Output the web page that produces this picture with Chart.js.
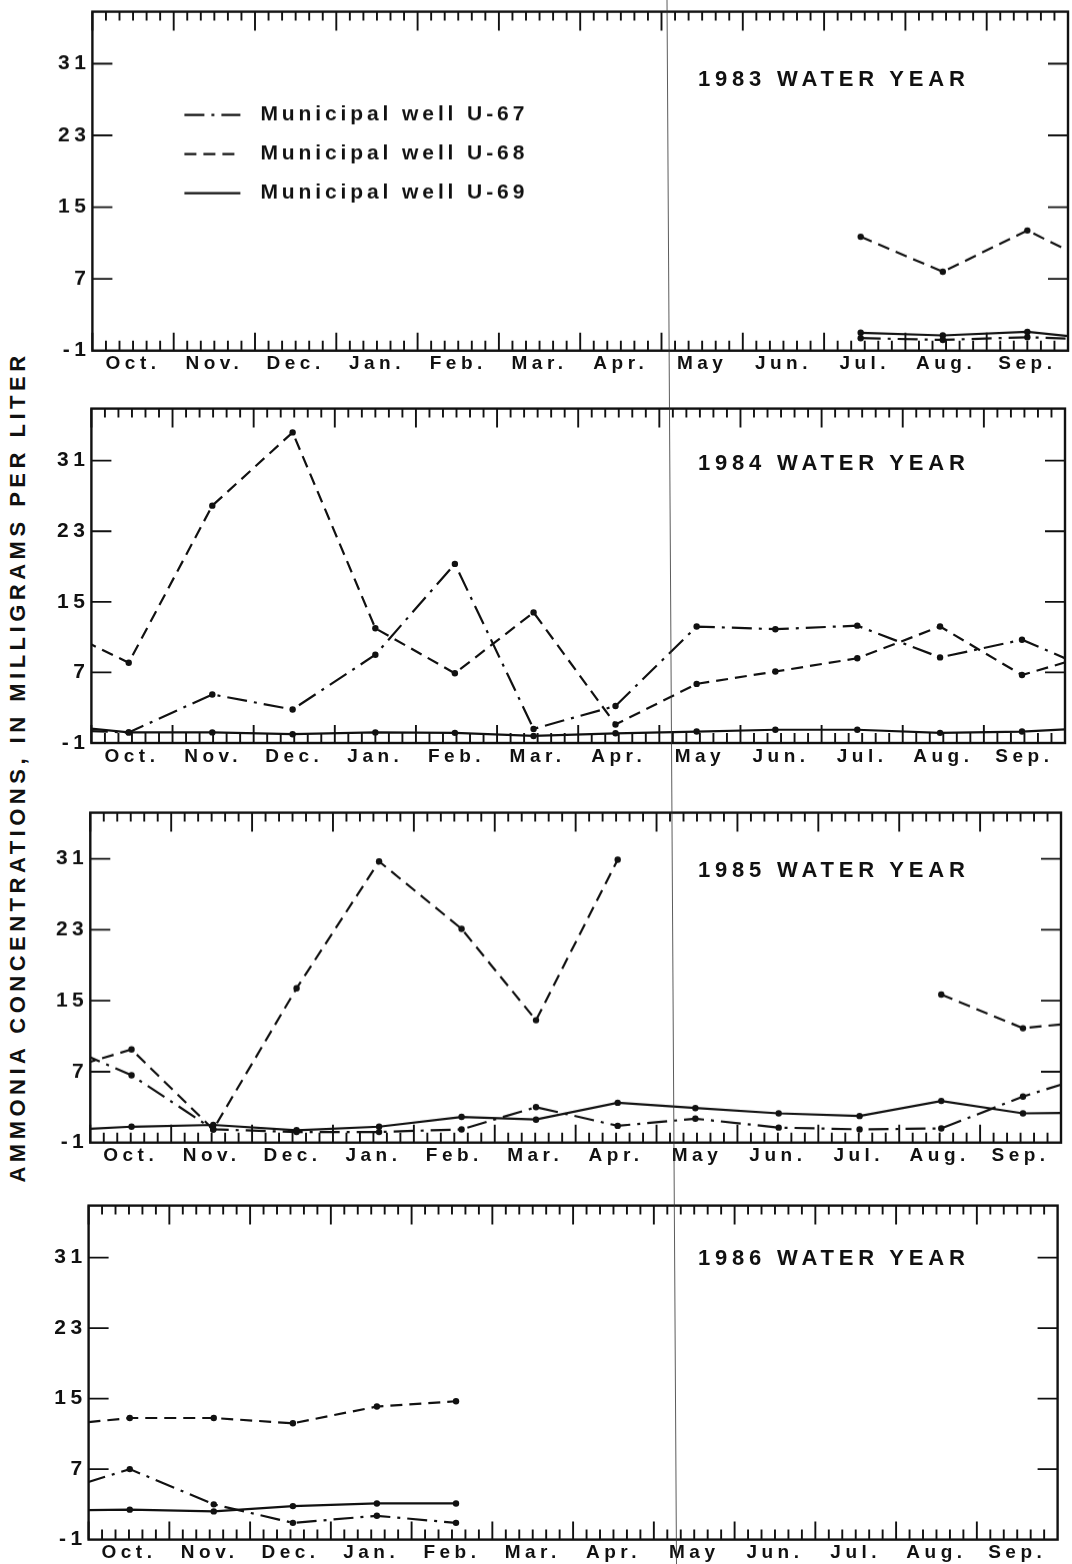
<!DOCTYPE html>
<html>
<head>
<meta charset="utf-8">
<script src="https://cdn.jsdelivr.net/npm/chart.js@4.4.1/dist/chart.umd.min.js"></script>
<style>
  html, body { margin: 0; padding: 0; background: #fff; }
  #page { position: relative; width: 1072px; height: 1564px; overflow: hidden; background: #fff; }
  .panel { position: absolute; left: 0; width: 1072px; }
  .wy { position: absolute; font: bold 22px "Liberation Sans", Arial, sans-serif; letter-spacing: 4.8px;
        color: #111; white-space: nowrap; line-height: 1; }
  #ytitle { position: absolute; left: 18px; top: 767px; transform: translate(-50%, -50%) rotate(-90deg);
            font: bold 22px "Liberation Sans", Arial, sans-serif; letter-spacing: 4.5px; color: #111;
            white-space: nowrap; line-height: 1; }
  #scanline { position: absolute; left: 0; top: 0; pointer-events: none; }
</style>
</head>
<body>
<div id="page">
  <div id="ytitle">AMMONIA CONCENTRATIONS, IN MILLIGRAMS PER LITER</div>
</div>
<script>
// ---------------- data ----------------
const months = ['Oct.', 'Nov.', 'Dec.', 'Jan.', 'Feb.', 'Mar.', 'Apr.', 'May', 'Jun.', 'Jul.', 'Aug.', 'Sep.'];
const yTicks = [-1, 7, 15, 23, 31];
const waterYears = ['1983 WATER YEAR', '1984 WATER YEAR', '1985 WATER YEAR', '1986 WATER YEAR'];
const wellNames = ['Municipal well U-67', 'Municipal well U-68', 'Municipal well U-69'];

// sampling dates, in months after October 1
const sampleX1983 = [0.5, 1.5, 2.5, 3.5, 4.5, 5.5, 6.5, 7.5, 8.5, 9.45, 10.46, 11.50];
const sampleX1984 = [0.46, 1.49, 2.48, 3.50, 4.48, 5.45, 6.46, 7.46, 8.43, 9.44, 10.46, 11.47];
const sampleX1985 = [0.51, 1.52, 2.55, 3.57, 4.59, 5.51, 6.52, 7.48, 8.51, 9.51, 10.52, 11.53];
const sampleX1986 = [0.51, 1.55, 2.53, 3.57, 4.55, 5.5, 6.5, 7.5, 8.5, 9.5, 10.5, 11.5];

// ammonia concentrations (mg/L), Oct..Sep of each water year
const u67_1983 = [null, null, null, null, null, null, null, null, null, 0.4, 0.2, 0.5];
const u67_1984 = [0.2, 4.5, 2.8, 9.0, 19.3, 0.6, 3.2, 12.2, 11.9, 12.3, 8.7, 10.7];
const u67_1985 = [6.6, 0.5, 0.2, 0.2, 0.5, 3.0, 0.9, 1.7, 0.7, 0.5, 0.6, 4.2];
const u67_1986 = [7.0, 3.0, 0.9, 1.7, 0.9, null, null, null, null, null, null, null];

const u68_1983 = [null, null, null, null, null, null, null, null, null, 11.7, 7.8, 12.4];
const u68_1984 = [8.1, 25.9, 34.2, 12.0, 6.9, 13.8, 1.1, 5.7, 7.1, 8.6, 12.2, 6.7];
const u68_1985 = [9.5, 0.5, 16.4, 30.7, 23.1, 12.8, 30.9, null, null, null, 15.7, 11.9];
const u68_1986 = [12.8, 12.8, 12.2, 14.1, 14.7, null, null, null, null, null, null, null];

const u69_1983 = [null, null, null, null, null, null, null, null, null, 1.0, 0.7, 1.1];
const u69_1984 = [0.2, 0.2, 0.0, 0.2, 0.15, -0.2, 0.1, 0.3, 0.5, 0.5, 0.15, 0.3];
const u69_1985 = [0.8, 1.0, 0.4, 0.8, 1.9, 1.6, 3.5, 2.9, 2.3, 2.0, 3.7, 2.3];
const u69_1986 = [2.4, 2.2, 2.8, 3.1, 3.1, null, null, null, null, null, null, null];

// ---------------- layout / style ----------------
const INK = '#111';
const FONT = '"Liberation Sans", Arial, sans-serif';
const panelBox = [
  { top: 8.3,    bottom: 350,    left: 92.4, right: 1068,   yMax: 36.8, titleTop: 68 },
  { top: 405,    bottom: 743,    left: 91.4, right: 1065,   yMax: 36.9, titleTop: 452 },
  { top: 809.3,  bottom: 1142,   left: 90.3, right: 1061,   yMax: 36.2, titleTop: 859 },
  { top: 1201.7, bottom: 1539.3, left: 88.6, right: 1057.6, yMax: 36.9, titleTop: 1247 }
];
const PAD_TOP = 3, XAXIS_H = 24;
const sampleX = [sampleX1983, sampleX1984, sampleX1985, sampleX1986];
const wells = [
  { name: wellNames[0], dash: [20, 7, 3, 7], values: [u67_1983, u67_1984, u67_1985, u67_1986] },
  { name: wellNames[1], dash: [12, 7],       values: [u68_1983, u68_1984, u68_1985, u68_1986] },
  { name: wellNames[2], dash: [],            values: [u69_1983, u69_1984, u69_1985, u69_1986] }
];

function series(w, p) {
  const v = w.values, out = [];
  if (p > 0 && v[p - 1][11] != null) out.push({ x: sampleX[p - 1][11] - 12, y: v[p - 1][11] });
  for (let i = 0; i < 12; i++) out.push({ x: sampleX[p][i], y: v[p][i] });
  if (p < v.length - 1 && v[p + 1][0] != null) out.push({ x: sampleX[p + 1][0] + 12, y: v[p + 1][0] });
  return out;
}

// frame and inward tick marks, positioned through the chart's scales
const framePlugin = {
  id: 'frame',
  beforeDraw(chart) { chart.ctx.letterSpacing = '4.5px'; },
  beforeDatasetsDraw(chart) {
    const { ctx, chartArea: a, scales: { x, y } } = chart;
    ctx.save();
    ctx.setLineDash([]);
    ctx.strokeStyle = INK;
    ctx.lineWidth = 2.4;
    ctx.strokeRect(a.left, a.top, a.right - a.left, a.bottom - a.top);
    ctx.lineWidth = 1.9;
    ctx.beginPath();
    for (let m = 0; m < months.length; m++) {
      for (let k = 0; k < 6; k++) {
        const px = x.getPixelForValue(m + k / 6);
        const major = k === 0;
        ctx.moveTo(px, a.top); ctx.lineTo(px, a.top + (major ? 19 : 9));
        ctx.moveTo(px, a.bottom); ctx.lineTo(px, a.bottom - (major ? 18 : 10));
      }
    }
    yTicks.forEach(v => {
      if (v <= y.min) return;
      const py = y.getPixelForValue(v);
      ctx.moveTo(a.left, py); ctx.lineTo(a.left + 20, py);
      ctx.moveTo(a.right, py); ctx.lineTo(a.right - 20, py);
    });
    ctx.stroke();
    ctx.restore();
  }
};

// legend inside the first panel, drawn from the datasets
const legendPlugin = {
  id: 'inlineLegend',
  afterDatasetsDraw(chart, args, opts) {
    if (!opts.show) return;
    const { ctx, chartArea: a } = chart;
    ctx.save();
    chart.data.datasets.forEach((ds, i) => {
      const rowY = a.top + 103 + i * 39;
      ctx.strokeStyle = INK;
      ctx.lineWidth = 2.2;
      ctx.setLineDash(ds.borderDash || []);
      ctx.beginPath();
      ctx.moveTo(a.left + 92, rowY);
      ctx.lineTo(a.left + 148, rowY);
      ctx.stroke();
      ctx.setLineDash([]);
      ctx.fillStyle = INK;
      ctx.letterSpacing = '3.9px';
      ctx.font = 'bold 21px ' + FONT;
      ctx.textBaseline = 'middle';
      ctx.textAlign = 'left';
      ctx.fillText(ds.label, a.left + 168, rowY);
    });
    ctx.restore();
  }
};

const page = document.getElementById('page');
const svgNS = 'http://www.w3.org/2000/svg';

panelBox.forEach((b, p) => {
  const h = (b.bottom - b.top) + PAD_TOP + XAXIS_H;
  const div = document.createElement('div');
  div.className = 'panel';
  div.style.top = (b.top - PAD_TOP) + 'px';
  div.style.height = h + 'px';
  const canvas = document.createElement('canvas');
  div.appendChild(canvas);
  page.appendChild(div);

  const title = document.createElement('div');
  title.className = 'wy';
  title.style.left = '698px';
  title.style.top = b.titleTop + 'px';
  title.textContent = waterYears[p];
  page.appendChild(title);

  new Chart(canvas, {
    type: 'line',
    data: {
      datasets: wells.map(w => ({
        label: w.name,
        data: series(w, p),
        borderColor: INK,
        backgroundColor: INK,
        borderWidth: 2.2,
        borderDash: w.dash,
        pointRadius: 3.2,
        pointBackgroundColor: INK,
        pointBorderWidth: 0,
        tension: 0,
        spanGaps: false,
        fill: false
      }))
    },
    options: {
      responsive: true,
      maintainAspectRatio: false,
      animation: false,
      events: [],
      layout: { padding: { left: 0, top: PAD_TOP, right: 1072 - b.right, bottom: 0 } },
      plugins: {
        legend: { display: false },
        tooltip: { enabled: false },
        inlineLegend: { show: p === 0 }
      },
      scales: {
        x: {
          type: 'linear',
          min: 0,
          max: months.length,
          grid: { display: false },
          border: { display: false },
          afterBuildTicks: s => { s.ticks = months.map((_, i) => ({ value: i + 0.5 })); },
          afterFit: s => { s.height = XAXIS_H; },
          ticks: {
            autoSkip: false, maxRotation: 0, padding: -6, color: INK,
            font: { family: FONT, size: 19, weight: 'bold' },
            callback: (v, i) => months[i]
          }
        },
        y: {
          type: 'linear',
          min: -1,
          max: b.yMax,
          grid: { display: false },
          border: { display: false },
          afterBuildTicks: s => { s.ticks = yTicks.map(v => ({ value: v })); },
          afterFit: s => { s.width = b.left; },
          ticks: {
            padding: -6, color: INK,
            font: { family: FONT, size: 21, weight: 'bold' },
            callback: v => String(v)
          }
        }
      }
    },
    plugins: [framePlugin, legendPlugin]
  });
});

// faint scanner fold line seen in the reference
const svg = document.createElementNS(svgNS, 'svg');
svg.setAttribute('id', 'scanline');
svg.setAttribute('width', '1072');
svg.setAttribute('height', '1564');
const ln = document.createElementNS(svgNS, 'line');
ln.setAttribute('x1', '667'); ln.setAttribute('y1', '0');
ln.setAttribute('x2', '676.5'); ln.setAttribute('y2', '1564');
ln.setAttribute('stroke', '#333'); ln.setAttribute('stroke-width', '1'); ln.setAttribute('opacity', '0.8');
svg.appendChild(ln);
page.appendChild(svg);
</script>
</body>
</html>
